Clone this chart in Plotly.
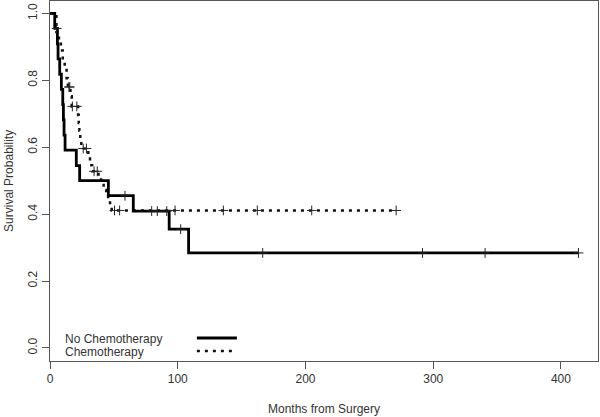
import plotly.graph_objects as go

# ---------------- data ----------------
nochemo_event_t = [3.7, 5.8, 6.3, 7.6, 8.9, 10.0, 10.5, 11.0, 11.8, 20.6, 23.2, 45.7, 65.2, 93.3, 108.5]
nochemo_surv = [0.955, 0.909, 0.864, 0.818, 0.773, 0.727, 0.682, 0.636, 0.591, 0.545, 0.500, 0.455, 0.409, 0.355, 0.284]
nochemo_censor_t = [5.2, 58.7, 79.6, 84.0, 91.4, 102.3, 166.5, 291.6, 340.6, 413.7]
nochemo_end = 413.7

chemo_event_t = [5.0, 7.0, 8.5, 10.0, 11.5, 13.0, 14.0, 16.0, 17.0, 22.0, 22.5, 23.0, 23.7, 24.5,
                 30.0, 31.3, 33.0, 38.0, 40.0, 42.0, 44.0, 45.5, 47.0, 48.3]
chemo_surv = [0.944, 0.917, 0.889, 0.861, 0.836, 0.806, 0.780, 0.752, 0.722, 0.696, 0.672, 0.649, 0.625, 0.596,
              0.566, 0.546, 0.528, 0.510, 0.492, 0.472, 0.457, 0.442, 0.427, 0.411]
chemo_censor_t = [14.8, 15.5, 17.5, 21.0, 26.0, 28.5, 34.5, 37.0, 50.5, 54.5, 97.9, 135.7, 162.3, 204.9, 271.0]
chemo_end = 271.0

x_ticks = [0, 100, 200, 300, 400]
y_ticks = [0.0, 0.2, 0.4, 0.6, 0.8, 1.0]
y_tick_labels = ["0.0", "0.2", "0.4", "0.6", "0.8", "1.0"]
series_names = ["No Chemotherapy", "Chemotherapy"]


def km_path(times, surv, end):
    xs = [0.0] + list(times) + [end]
    ys = [1.0] + list(surv) + [surv[-1]]
    return xs, ys


def surv_at(t, times, surv):
    s = 1.0
    for ti, si in zip(times, surv):
        if ti <= t:
            s = si
    return s


fig = go.Figure()

TXT = "#333333"
FONT = "Liberation Sans, Arial, sans-serif"
MARK = dict(symbol="cross-thin", size=7, line=dict(width=1, color="#222222"))

# Chemotherapy (dotted)
cx, cy = km_path(chemo_event_t, chemo_surv, chemo_end)
fig.add_trace(go.Scatter(x=cx, y=cy, mode="lines", line=dict(shape="hv", color="#111111", width=2.5, dash="3px,5px"),
                         showlegend=False, hoverinfo="skip"))
fig.add_trace(go.Scatter(x=chemo_censor_t, y=[surv_at(t, chemo_event_t, chemo_surv) for t in chemo_censor_t],
                         mode="markers", marker=MARK, showlegend=False, hoverinfo="skip"))

# No chemotherapy (solid)
nx, ny = km_path(nochemo_event_t, nochemo_surv, nochemo_end)
fig.add_trace(go.Scatter(x=nx, y=ny, mode="lines", line=dict(shape="hv", color="#000000", width=2.8),
                         showlegend=False, hoverinfo="skip"))
fig.add_trace(go.Scatter(x=nochemo_censor_t, y=[surv_at(t, nochemo_event_t, nochemo_surv) for t in nochemo_censor_t],
                         mode="markers", marker=MARK, showlegend=False, hoverinfo="skip"))

# Legend (text left, line sample right, as in the reference)
fig.add_annotation(x=0.0237, y=0.061, xref="paper", yref="paper", text=series_names[0], showarrow=False,
                   xanchor="left", yanchor="middle", font=dict(size=12, color=TXT, family=FONT))
fig.add_annotation(x=0.0237, y=0.025, xref="paper", yref="paper", text=series_names[1], showarrow=False,
                   xanchor="left", yanchor="middle", font=dict(size=12, color=TXT, family=FONT))
fig.add_shape(type="line", xref="paper", yref="paper", x0=0.268, x1=0.341, y0=0.0639, y1=0.0639,
              line=dict(color="#000000", width=2.8))
fig.add_shape(type="line", xref="paper", yref="paper", x0=0.268, x1=0.334, y0=0.0278, y1=0.0278,
              line=dict(color="#111111", width=2.5, dash="3px,5px"))

# Axis titles
fig.add_annotation(x=0.5, y=-0.107, xref="paper", yref="paper", text="Months from Surgery", showarrow=False,
                   xanchor="center", yanchor="top", font=dict(size=12, color=TXT, family=FONT))
fig.add_annotation(x=-0.075, y=0.5, xref="paper", yref="paper", text="Survival Probability", showarrow=False,
                   textangle=-90, xanchor="center", yanchor="middle", font=dict(size=12, color=TXT, family=FONT))

axis_common = dict(showline=True, linecolor="#555555", linewidth=1, mirror=True, showgrid=False, zeroline=False,
                   ticks="outside", ticklen=7, tickwidth=1, tickcolor="#555555", automargin=False,
                   tickfont=dict(size=12, color=TXT, family=FONT))

fig.update_xaxes(range=[0, 429], tickvals=x_ticks, **axis_common)
fig.update_yaxes(range=[-0.039, 1.037], tickvals=y_ticks, ticktext=y_tick_labels, tickangle=-90, **axis_common)

fig.update_layout(width=600, height=417, margin=dict(l=50, r=2, t=1, b=56, pad=0),
                  paper_bgcolor="white", plot_bgcolor="white", showlegend=False)

fig.write_html("out.html", config={"displayModeBar": False, "staticPlot": True},
               post_script="document.body.style.margin='0';document.body.style.padding='0';"
                           "document.body.style.overflow='hidden';")
